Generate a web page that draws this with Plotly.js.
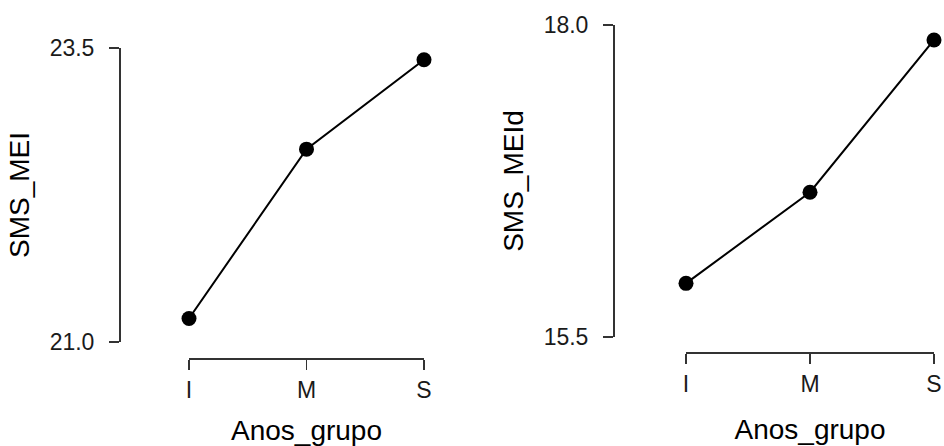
<!DOCTYPE html>
<html>
<head>
<meta charset="utf-8">
<script src="https://cdn.plot.ly/plotly-3.0.1.min.js"></script>
<style>html,body{margin:0;padding:0;background:#fff;}#chart{width:944px;height:446px;}</style>
</head>
<body>
<div id="chart"></div>
<script>
var groups = ['I', 'M', 'S'];
var groupPos = [0, 1, 2];
var smsMEI = [21.2, 22.64, 23.40];
var smsMEId = [15.93, 16.66, 17.88];
var yTicksLeft = [21.0, 23.5];
var yTicksRight = [15.5, 18.0];

var W = 944, H = 446;
function px(x) { return x / W; }
function py(y) { return 1 - y / H; }

var fontFam = '"Liberation Sans", Arial, sans-serif';
var tickFont = {family: fontFam, size: 23, color: '#1a1a1a'};
var titleFont = {family: fontFam, size: 28, color: '#000'};

var markerStyle = {size: 15, color: '#000', symbol: 'circle'};
var lineStyle = {color: '#000', width: 2};

var traces = [
  {x: groupPos, y: smsMEI, xaxis: 'x', yaxis: 'y', mode: 'lines+markers',
   marker: markerStyle, line: lineStyle, cliponaxis: false, hoverinfo: 'skip', showlegend: false},
  {x: groupPos, y: smsMEId, xaxis: 'x2', yaxis: 'y2', mode: 'lines+markers',
   marker: markerStyle, line: lineStyle, cliponaxis: false, hoverinfo: 'skip', showlegend: false}
];

function xAxis(domain, pos) {
  return {
    domain: domain, anchor: 'free', position: pos,
    range: [0, 2], tickvals: groupPos, ticktext: groups,
    showline: true, linecolor: '#333', linewidth: 1.5,
    ticks: 'outside', ticklen: 10, tickwidth: 1.5, tickcolor: '#333',
    showgrid: false, zeroline: false, tickfont: tickFont, ticklabelstandoff: 1,
    title: {text: 'Anos_grupo', font: titleFont, standoff: 23},
    automargin: false, fixedrange: true
  };
}
function yAxis(domain, pos, range, ticks, title) {
  return {
    domain: domain, anchor: 'free', position: pos,
    range: range, tickvals: ticks, ticktext: ticks.map(function(v){return v.toFixed(1);}),
    showline: true, linecolor: '#333', linewidth: 1.5,
    ticks: 'outside', ticklen: 10, tickwidth: 1.5, tickcolor: '#333',
    showgrid: false, zeroline: false, tickfont: tickFont, ticklabelstandoff: 10,
    title: {text: title, font: titleFont, standoff: 10},
    automargin: false, fixedrange: true
  };
}

var layout = {
  width: W, height: H,
  margin: {l: 0, r: 0, t: 0, b: 0},
  paper_bgcolor: '#fff', plot_bgcolor: 'rgba(0,0,0,0)',
  showlegend: false,
  xaxis: xAxis([px(189), px(424)], py(358)),
  yaxis: yAxis([py(342), py(48)], px(119), [yTicksLeft[0], yTicksLeft[1]], yTicksLeft, 'SMS_MEI'),
  xaxis2: xAxis([px(686), px(934)], py(352)),
  yaxis2: yAxis([py(337), py(25)], px(613), [yTicksRight[0], yTicksRight[1]], yTicksRight, 'SMS_MEId')
};

Plotly.newPlot('chart', traces, layout, {displayModeBar: false, staticPlot: true});
</script>
</body>
</html>
